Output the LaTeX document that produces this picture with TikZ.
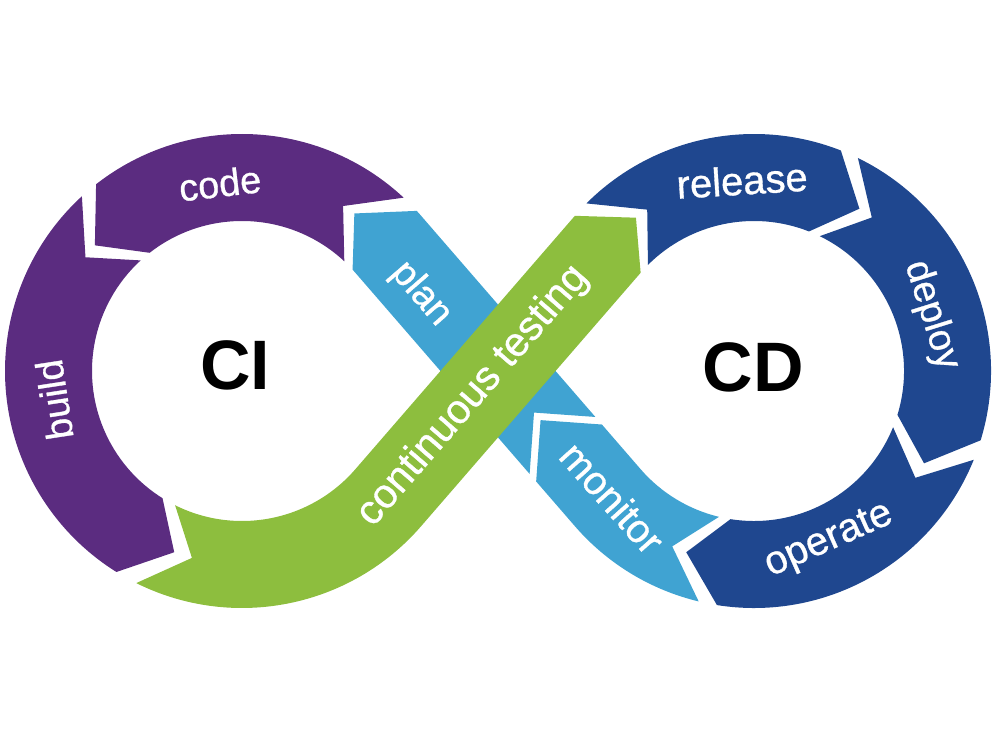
\documentclass[tikz,border=0pt]{standalone}
\usepackage{fontspec}
\setmainfont{Liberation Sans}
\newfontfamily\lblfont[FakeBold=0.8]{Liberation Sans}
\usetikzlibrary{calc}
\definecolor{cipurple}{RGB}{91,44,128}
\definecolor{ctgreen}{RGB}{141,190,62}
\definecolor{ltblue}{RGB}{64,163,210}
\definecolor{cdblue}{RGB}{31,71,143}
\def\Ro{237}
\def\Ri{150}
\def\Rm{193.5}
\begin{document}
\begin{tikzpicture}[x=1pt,y=1pt,
  lbl/.style={text=white, font=\lblfont\fontsize{38}{40}\selectfont, inner sep=0pt},
  big/.style={text=black, font=\bfseries\fontsize{70}{70}\selectfont, inner sep=0pt}]
\useasboundingbox (0,0) rectangle (1000,750);
\coordinate (c1) at (242,379);
\coordinate (c2) at (754,379);
\coordinate (M) at (498,379);
% plan (light blue, under green)
\fill[ltblue] ($(M)+(-49.1:98.5)+(40.9:43.5)$) -- ($(c1)+(40.9:\Ro)$)
  arc[start angle=40.9,end angle=42.5,radius=\Ro] -- ($(c1)+(54.5:\Rm)$)
  -- ($(c1)+(42.5:\Ri)$) arc[start angle=42.5,end angle=40.9,radius=\Ri]
  -- ($(M)+(-49.1:98.5)+(-139.1:43.5)$) -- ($(M)+(-49.1:55)$) -- cycle;
% monitor
\fill[ltblue] ($(M)+(-49.1:65)$) -- ($(M)+(-49.1:108.5)+(40.9:43.5)$)
  -- ($(c2)+(220.9:\Ri)$) arc[start angle=220.9,end angle=256.5,radius=\Ri]
  -- ($(c2)+(245:\Rm)$) -- ($(c2)+(256.5:\Ro)$)
  arc[start angle=256.5,end angle=220.9,radius=\Ro]
  -- ($(M)+(-49.1:108.5)+(-139.1:43.5)$) -- cycle;
% continuous testing
\fill[ctgreen] ($(c1)+(243.5:\Ro)$) arc[start angle=243.5,end angle=319.1,radius=\Ro]
  -- ($(c2)+(139.1:\Ri)$) -- ($(c2)+(127.6:\Rm)$) -- ($(c2)+(139.1:\Ro)$)
  -- ($(c1)+(319.1:\Ri)$) arc[start angle=319.1,end angle=243.5,radius=\Ri]
  -- ($(c1)+(255:\Rm)$) -- cycle;
% code
\fill[cipurple] ($(c1)+(47:\Ro)$) arc[start angle=47,end angle=128,radius=\Ro]
  -- ($(c1)+(139.5:\Rm)$) -- ($(c1)+(128:\Ri)$)
  arc[start angle=128,end angle=47,radius=\Ri] -- ($(c1)+(58.5:\Rm)$) -- cycle;
% build
\fill[cipurple] ($(c1)+(132.5:\Ro)$) arc[start angle=132.5,end angle=238,radius=\Ro]
  -- ($(c1)+(249.5:\Rm)$) -- ($(c1)+(238:\Ri)$)
  arc[start angle=238,end angle=132.5,radius=\Ri] -- ($(c1)+(144:\Rm)$) -- cycle;
% release
\fill[cdblue] ($(c2)+(135:\Ro)$) arc[start angle=135,end angle=68.5,radius=\Ro]
  -- ($(c2)+(57:\Rm)$) -- ($(c2)+(68.5:\Ri)$)
  arc[start angle=68.5,end angle=135,radius=\Ri] -- ($(c2)+(123.5:\Rm)$) -- cycle;
% deploy
\fill[cdblue] ($(c2)+(64:\Ro)$) arc[start angle=64,end angle=-17,radius=\Ro]
  -- ($(c2)+(-28.5:\Rm)$) -- ($(c2)+(-17:\Ri)$)
  arc[start angle=-17,end angle=64,radius=\Ri] -- ($(c2)+(52.5:\Rm)$) -- cycle;
% operate
\fill[cdblue] ($(c2)+(-22:\Ro)$) arc[start angle=-22,end angle=-99,radius=\Ro]
  -- ($(c2)+(-110.5:\Rm)$) -- ($(c2)+(-99:\Ri)$)
  arc[start angle=-99,end angle=-22,radius=\Ri] -- ($(c2)+(-33.5:\Rm)$) -- cycle;
% labels
\node[lbl, rotate=6.7] (code) at ($(c1)+(96.7:189)$) {code};
\node[lbl, rotate=98.7] (build) at ($(c1)+(188.7:190)$) {build};
\node[lbl, rotate=49.1, font=\lblfont\fontsize{41}{43}\selectfont] (ct) at (473,354) {continuous testing};
\node[lbl, rotate=-49.1] (plan) at (421,456) {plan};
\node[lbl, rotate=3.6, font=\lblfont\fontsize{40}{42}\selectfont] (release) at ($(c2)+(93.6:191)$) {release};
\node[lbl, rotate=-72.6] (deploy) at ($(c2)+(17.4:186)$) {deploy};
\node[lbl, rotate=23.9, font=\lblfont\fontsize{40}{42}\selectfont] (operate) at ($(c2)+(-66.1:186)$) {operate};
\node[lbl, rotate=-48.2, font=\lblfont\fontsize{40}{42}\selectfont] (monitor) at ($(c2)+(221.8:190)$) {monitor};
\node[big] (ci) at (235,385) {CI};
\node[big] (cd) at (753,383) {CD};
\end{tikzpicture}
\end{document}
